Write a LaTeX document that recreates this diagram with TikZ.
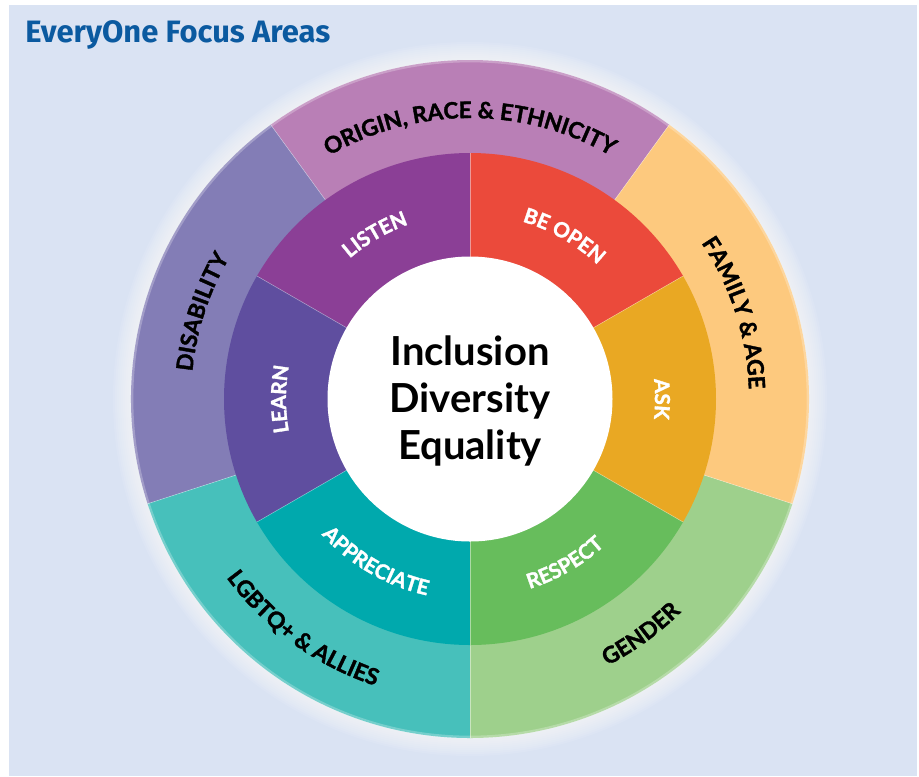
\documentclass[tikz,border=0pt]{standalone}
\usepackage{fontspec}
\setmainfont{Lato}
\newfontfamily\titlefont{Fira Sans}
\newfontfamily\heavyfont{Lato}[BoldFeatures={FakeBold=1.6}]
\usetikzlibrary{decorations.text}

\definecolor{pagebg}{RGB}{218,227,243}
\definecolor{titleblue}{RGB}{11,90,160}
% outer ring
\definecolor{originc}{RGB}{185,127,182}
\definecolor{familyc}{RGB}{253,201,126}
\definecolor{genderc}{RGB}{158,208,140}
\definecolor{lgbtc}{RGB}{71,192,187}
\definecolor{disabc}{RGB}{131,125,182}
% inner ring
\definecolor{listenc}{RGB}{139,63,150}
\definecolor{beopenc}{RGB}{235,74,59}
\definecolor{askc}{RGB}{233,168,35}
\definecolor{respectc}{RGB}{103,189,92}
\definecolor{apprc}{RGB}{0,169,173}
\definecolor{learnc}{RGB}{95,78,159}

\newcommand\outerfont{\heavyfont\bfseries\fontsize{17}{20}\selectfont}
\newcommand\innerfont{\heavyfont\bfseries\fontsize{15.5}{18}\selectfont}

\tikzset{
  divider/.style={draw=white, draw opacity=0.45, line width=0.4pt},
  outerlabel/.style={decorate, decoration={text along path, text align=center, text color=black, text={|\outerfont|#1}}},
  innerlabel/.style={decorate, decoration={text along path, text align=center, text color=white, text={|\innerfont|#1}}},
}

\begin{document}
\begin{tikzpicture}[x=0.75pt,y=0.75pt]
	% page and panel
	\fill[white] (-470,-377) rectangle (449,399);
	\fill[pagebg] (-461,-377) rectangle (447,394);
	
	% Title
	\node (title) [anchor=base west, inner sep=0pt, text=titleblue, font=\titlefont\bfseries\fontsize{23.2}{28}\selectfont] at (-445,357) {EveryOne Focus Areas};
	
	% soft halo round the wheel
	\foreach \r in {18,16,...,2}
		\fill[white, opacity=0.09] (0,0) circle[radius=339+\r];
	
	%Outer ring
	\fill[originc] (0,0) -- (54:339) arc[start angle=54, end angle=126, radius=339] -- cycle;
	\fill[disabc] (0,0) -- (126:339) arc[start angle=126, end angle=198, radius=339] -- cycle;
	\fill[lgbtc] (0,0) -- (198:339) arc[start angle=198, end angle=270, radius=339] -- cycle;
	\fill[genderc] (0,0) -- (270:339) arc[start angle=270, end angle=342, radius=339] -- cycle;
	\fill[familyc] (0,0) -- (342:339) arc[start angle=342, end angle=414, radius=339] -- cycle;
	\foreach \a in {54,126,198,270,342}
		\draw[divider] (\a:246) -- (\a:339);
	\draw[white, opacity=0.25, line width=2pt] (0,0) circle[radius=338];
	
	%Inner ring
	\fill[beopenc] (0,0) -- (30:246) arc[start angle=30, end angle=90, radius=246] -- cycle;
	\fill[listenc] (0,0) -- (90:246) arc[start angle=90, end angle=150, radius=246] -- cycle;
	\fill[learnc] (0,0) -- (150:246) arc[start angle=150, end angle=210, radius=246] -- cycle;
	\fill[apprc] (0,0) -- (210:246) arc[start angle=210, end angle=270, radius=246] -- cycle;
	\fill[respectc] (0,0) -- (270:246) arc[start angle=270, end angle=330, radius=246] -- cycle;
	\fill[askc] (0,0) -- (-30:246) arc[start angle=-30, end angle=30, radius=246] -- cycle;
	\foreach \a in {30,90,150,210,270,330}
		\draw[divider] (\a:142) -- (\a:246);
	
	%Centre disc
	\fill[white] (0,0) circle[radius=142.5];
	\node (ide) [align=center, inner sep=0pt, font=\bfseries\fontsize{30}{35}\selectfont] at (0,-2) {Inclusion\\Diversity\\Equality};
	
	% Outer labels
	\path[outerlabel={ORIGIN, RACE {\&} ETHNICITY}] (126:281) arc[start angle=126, end angle=54, radius=281];
	\path[outerlabel={DISABILITY}] (198:279) arc[start angle=198, end angle=126, radius=279];
	\path[outerlabel={FAMILY {\&} AGE}] (54:279) arc[start angle=54, end angle=-18, radius=279];
	\path[outerlabel={LGBTQ+ {\&} ALLIES}] (198:302) arc[start angle=198, end angle=270, radius=302];
	\path[outerlabel={GENDER}] (270:300) arc[start angle=270, end angle=342, radius=300];
	
	% Inner labels
	\path[innerlabel={LISTEN}] (150:185) arc[start angle=150, end angle=90, radius=185];
	\path[innerlabel={BE OPEN}] (90:185) arc[start angle=90, end angle=30, radius=185];
	\path[innerlabel={ASK}] (30:185) arc[start angle=30, end angle=-30, radius=185];
	\path[innerlabel={LEARN}] (210:184) arc[start angle=210, end angle=150, radius=184];
	\path[innerlabel={APPRECIATE}] (210:201) arc[start angle=210, end angle=270, radius=201];
	\path[innerlabel={RESPECT}] (270:199) arc[start angle=270, end angle=330, radius=199];
\end{tikzpicture}
\end{document}
